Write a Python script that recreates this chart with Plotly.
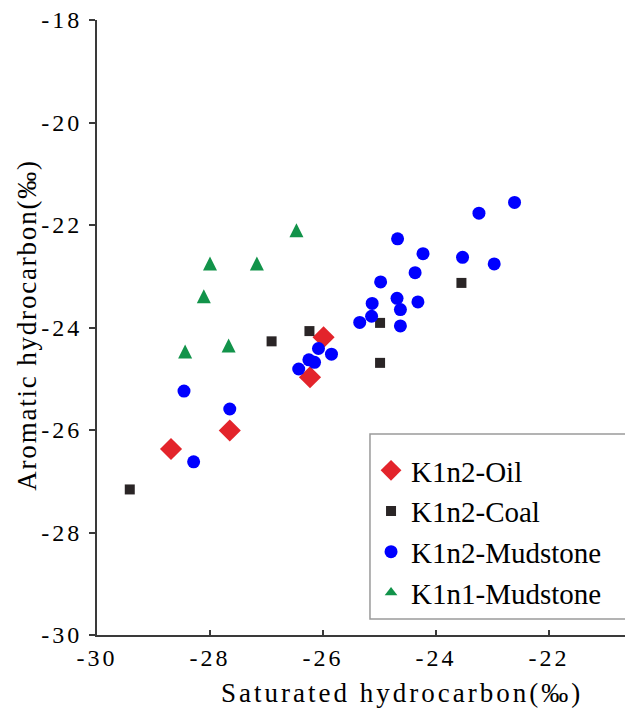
import plotly.graph_objects as go

# Carbon isotope composition (δ13C, ‰) of saturated vs aromatic hydrocarbons
oil_sat = [-25.99, -26.23, -27.65, -28.69]
oil_aro = [-24.19, -24.97, -26.01, -26.37]

coal_sat = [-26.91, -26.24, -24.99, -24.99, -23.55, -29.42]
coal_aro = [-24.27, -24.07, -23.91, -24.69, -23.13, -27.16]

mud2_sat = [-28.46, -27.65, -28.29, -26.08, -25.85, -26.25, -26.15, -26.43,
            -22.61, -23.24, -24.68, -24.23, -23.53, -22.97, -24.37, -24.98,
            -24.69, -24.32, -25.13, -24.63, -25.14, -25.35, -24.63]
mud2_aro = [-25.24, -25.59, -26.62, -24.41, -24.52, -24.63, -24.68, -24.81,
            -21.56, -21.77, -22.27, -22.56, -22.63, -22.76, -22.93, -23.11,
            -23.43, -23.50, -23.53, -23.65, -23.78, -23.90, -23.97]

mud1_sat = [-26.47, -28.00, -27.17, -28.11, -28.44, -27.67]
mud1_aro = [-22.10, -22.75, -22.75, -23.39, -24.47, -24.35]

x_ticks = [-30, -28, -26, -24, -22]
x_labels = ["-30", "-28", "-26", "-24", "-22"]
y_ticks = [-30, -28, -26, -24, -22, -20, -18]
y_labels = ["-30", "-28", "-26", "-24", "-22", "-20", "-18"]

SERIF = "Liberation Serif, Times New Roman, serif"
AXIS_COLOR = "#3a3a3a"
GREEN = "#12934a"

fig = go.Figure()
fig.add_trace(go.Scatter(
    x=oil_sat, y=oil_aro, mode="markers", name="K1n2-Oil",
    marker=dict(symbol="diamond", size=17, color="#e3242b", line=dict(width=0)),
))
fig.add_trace(go.Scatter(
    x=coal_sat, y=coal_aro, mode="markers", name="K1n2-Coal",
    marker=dict(symbol="square", size=10, color="#2a2526", line=dict(width=0)),
))
fig.add_trace(go.Scatter(
    x=mud2_sat, y=mud2_aro, mode="markers", name="K1n2-Mudstone",
    marker=dict(symbol="circle", size=13, color="#0000ff", line=dict(width=0)),
))
# narrow upward triangles, centred on the point (tip offset upward by half the size)
fig.add_trace(go.Scatter(
    x=mud1_sat, y=mud1_aro, mode="markers", name="K1n1-Mudstone",
    showlegend=False,
    marker=dict(symbol="arrow-down", angle=180, standoff=7, size=14,
                color=GREEN, line=dict(width=0)),
))
# legend entry for the triangles
fig.add_trace(go.Scatter(
    x=[None], y=[None], mode="markers", name="K1n1-Mudstone",
    marker=dict(symbol="triangle-up", size=11, color=GREEN, line=dict(width=0)),
))

fig.update_layout(
    width=625, height=708,
    margin=dict(l=97, r=0, t=20, b=73),
    plot_bgcolor="white", paper_bgcolor="white",
    font=dict(family=SERIF, color="black"),
    showlegend=True,
    legend=dict(
        x=0.519, y=0.309, xanchor="left", yanchor="top",
        bgcolor="rgba(0,0,0,0)", borderwidth=0,
        font=dict(family=SERIF, size=29, color="black"),
    ),
    xaxis=dict(
        range=[-30, -20.655], tickvals=x_ticks, ticktext=x_labels,
        showgrid=False, zeroline=False,
        showline=True, linecolor=AXIS_COLOR, linewidth=2,
        ticks="inside", ticklen=5, tickwidth=1.5, tickcolor=AXIS_COLOR,
        tickfont=dict(family=SERIF, size=24, color="black"),
    ),
    yaxis=dict(
        range=[-30, -18], tickvals=y_ticks, ticktext=y_labels,
        showgrid=False, zeroline=False,
        showline=True, linecolor=AXIS_COLOR, linewidth=2,
        ticks="outside", ticklen=6, tickwidth=1.5, tickcolor=AXIS_COLOR,
        ticklabelstandoff=2,
        tickfont=dict(family=SERIF, size=24, color="black"),
    ),
    shapes=[dict(
        type="rect", xref="paper", yref="paper",
        x0=0.517, x1=1.05, y0=0.026, y1=0.327,
        line=dict(color="#9a9a9a", width=1.5), fillcolor="rgba(0,0,0,0)",
    )],
    annotations=[
        dict(text="Saturated hydrocarbon(‰)", xref="paper", yref="paper",
             x=0.578, y=-0.094, xanchor="center", yanchor="middle",
             showarrow=False, font=dict(family=SERIF, size=27, color="black")),
        dict(text="Aromatic hydrocarbon(‰)", xref="paper", yref="paper",
             x=-0.1326, y=0.504, xanchor="center", yanchor="middle",
             textangle=-90, showarrow=False,
             font=dict(family=SERIF, size=27, color="black")),
    ],
)

# widen the tracking of tick labels and axis titles
tracking_js = """
var gd = document.getElementById('{plot_id}');
function applyTracking() {
    gd.querySelectorAll('.xtick text, .ytick text').forEach(function (t) {
        t.style.letterSpacing = '3px';
    });
    var ann = gd.querySelectorAll('.annotation-text');
    if (ann[0]) ann[0].style.letterSpacing = '3px';
    if (ann[1]) ann[1].style.letterSpacing = '1.8px';
}
applyTracking();
gd.on('plotly_afterplot', applyTracking);
"""

fig.write_html("out.html", post_script=tracking_js)
